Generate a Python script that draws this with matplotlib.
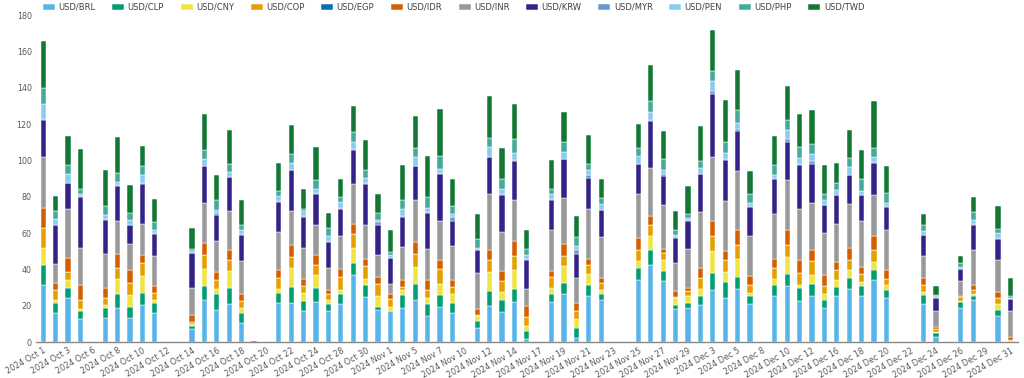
import numpy as np
import matplotlib.pyplot as plt

# categories (trading days shown on the axis)
dates = ["2024 Oct 1", "2024 Oct 2", "2024 Oct 3", "2024 Oct 4", "2024 Oct 6", "2024 Oct 7",
         "2024 Oct 8", "2024 Oct 9", "2024 Oct 10", "2024 Oct 11", "2024 Oct 12", "2024 Oct 13",
         "2024 Oct 14", "2024 Oct 15", "2024 Oct 16", "2024 Oct 17", "2024 Oct 18", "2024 Oct 19",
         "2024 Oct 20", "2024 Oct 21", "2024 Oct 22", "2024 Oct 23", "2024 Oct 24", "2024 Oct 25",
         "2024 Oct 28", "2024 Oct 29", "2024 Oct 30", "2024 Oct 31", "2024 Nov 1", "2024 Nov 4",
         "2024 Nov 5", "2024 Nov 6", "2024 Nov 7", "2024 Nov 8", "2024 Nov 10", "2024 Nov 11",
         "2024 Nov 12", "2024 Nov 13", "2024 Nov 14", "2024 Nov 15", "2024 Nov 17", "2024 Nov 18",
         "2024 Nov 19", "2024 Nov 20", "2024 Nov 21", "2024 Nov 22", "2024 Nov 23", "2024 Nov 24",
         "2024 Nov 25", "2024 Nov 26", "2024 Nov 27", "2024 Nov 28", "2024 Nov 29", "2024 Dec 2",
         "2024 Dec 3", "2024 Dec 4", "2024 Dec 5", "2024 Dec 6", "2024 Dec 8", "2024 Dec 9",
         "2024 Dec 10", "2024 Dec 11", "2024 Dec 12", "2024 Dec 13", "2024 Dec 16", "2024 Dec 17",
         "2024 Dec 18", "2024 Dec 19", "2024 Dec 20", "2024 Dec 21", "2024 Dec 22", "2024 Dec 23",
         "2024 Dec 24", "2024 Dec 25", "2024 Dec 26", "2024 Dec 27", "2024 Dec 29", "2024 Dec 30",
         "2024 Dec 31"]

# series values, stacked bottom to top
brl = [31.7, 16.1, 24.4, 12.5, 0, 13, 19, 13.4, 20.3, 16.1,
       0, 0, 7, 23.1, 17.6, 21.2, 10.3, 0, 0, 21.6,
       21.6, 17, 22.2, 17.2, 21.2, 37.2, 24.9, 17.9, 17, 18.5,
       23.1, 14.3, 19.4, 15.8, 0, 7.5, 20, 16.7, 22.2, 1.5,
       0, 21.8, 26.2, 2.4, 25.5, 23.1, 0, 0, 34.4, 42.3,
       33.7, 18.1, 18.9, 20.3, 28.9, 24.5, 29.5, 21.2, 0, 25.3,
       30.8, 22.5, 25.3, 18.5, 25.5, 29.1, 25.5, 34.4, 24.5, 0,
       0, 21.2, 2.6, 0, 19, 23.1, 0, 14.3, 0.8]
clp = [11, 5.5, 5.5, 4.7, 0, 5.5, 7.2, 6, 6.8, 5.5,
       0, 0, 1.8, 7.9, 9.1, 8.8, 5.5, 0, 0, 5.5,
       8.8, 5.5, 7.7, 4, 5.5, 6.6, 6.8, 1.5, 0, 7.3,
       9.1, 6.9, 6.4, 5.8, 0, 4, 8, 6.7, 7.3, 4.5,
       0, 4.4, 6.4, 5.5, 6.2, 3.3, 0, 0, 6.6, 8.2,
       5.5, 2.2, 2.7, 5, 9.4, 8.7, 6.4, 4.1, 0, 6,
       6.9, 7.4, 6.6, 4.9, 4.9, 6.2, 5.3, 5.5, 4.1, 0,
       0, 4.6, 2.2, 0, 3.2, 2.4, 0, 3.6, 0]
cny = [9.3, 1.8, 4.2, 1.1, 0, 1.8, 8.8, 6.4, 9.2, 1.8,
       0, 0, 1.1, 9.5, 2.8, 9.2, 2.7, 0, 0, 2.4,
       10.6, 4.6, 6.9, 2.2, 2.2, 8.2, 3.3, 5.9, 2.4, 3.1,
       9.2, 3.2, 6.4, 4.8, 0, 2.8, 10.6, 4.3, 10.1, 2.8,
       0, 3.7, 9.2, 4.6, 6, 2.2, 0, 0, 3.7, 7.9,
       5.8, 3.7, 3.7, 4.2, 11.9, 5.4, 10.1, 1.8, 0, 3.7,
       9.2, 1.8, 5.3, 2.8, 3.7, 4.6, 2.4, 4.2, 3.1, 0,
       0, 1.9, 0.9, 0, 0.5, 1, 0, 2.8, 0]
cop = [11, 5.2, 4.6, 5.1, 0, 4.2, 6, 7, 7.3, 3.7,
       0, 0, 1.3, 7.3, 4.6, 6.2, 4.2, 0, 0, 5.8,
       5.9, 3.7, 5.5, 3, 7, 7.7, 6.8, 6.9, 4.2, 1.5,
       7.3, 4.2, 8.3, 4, 0, 0.5, 6.8, 5.8, 7.7, 4.8,
       0, 6, 5.5, 4.7, 4.6, 4, 0, 0, 6.2, 5.9,
       4.2, 0.9, 2.9, 6, 8, 6.8, 7.7, 4.6, 0, 6,
       6.8, 6.4, 7.5, 4.6, 5.5, 5.5, 4.5, 6.8, 3.3, 0,
       0, 3.6, 1.3, 0, 2.2, 2.4, 0, 3.3, 0.6]
egp = [0, 0, 0, 0, 0, 0, 0, 0, 0, 0,
       0, 0, 0, 0, 0, 0, 0, 0, 0, 0,
       0, 0, 0, 0, 0, 0, 0, 0, 0, 0,
       0, 0, 0, 0, 0, 0, 0, 0, 0, 0,
       0, 0, 0, 0, 0, 0, 0, 0, 0, 0,
       0, 0, 0, 0, 0, 0, 0, 0, 0, 0,
       0, 0, 0, 0, 0, 0, 0, 0, 0, 0,
       0, 0, 0, 0, 0, 0, 0, 0, 0]
idr = [11, 4, 7.7, 8.3, 0, 5.4, 7.7, 6.8, 4.6, 3.7,
       0, 0, 3.6, 6.8, 4.5, 5.5, 3.7, 0, 0, 4.6,
       6.8, 3.7, 5.5, 2.5, 4.6, 5.1, 4.2, 3.7, 3.1, 4,
       6.4, 5.8, 4.9, 4, 0, 3.5, 5.5, 5.7, 8.2, 6.2,
       0, 3.1, 6.9, 4.4, 3.7, 2.9, 0, 0, 6.6, 5.1,
       1.8, 3.3, 1.8, 5.5, 8.3, 4.6, 7.8, 4.7, 0, 5,
       8.2, 7.3, 6.2, 6.4, 4.5, 6.6, 3.7, 7.3, 4.9, 0,
       0, 4, 1.4, 0, 0.5, 2.7, 0, 3.7, 1.2]
inr = [28, 10.6, 26.7, 20.1, 0.4, 18.8, 17.8, 14.2, 16.6, 16.5,
       0.4, 0.4, 15.2, 22, 16.9, 21.3, 18.3, 0, 0.4, 20.7,
       18.5, 17.1, 16.5, 12.1, 17.7, 22, 18.3, 12.3, 5.2, 18,
       22.9, 17.1, 21.1, 18.3, 0.4, 19.5, 30.4, 21.4, 22.5, 9.7,
       0.4, 22.5, 25.1, 13.7, 27.1, 22.4, 0.4, 0.4, 24.2, 26.6,
       24.7, 15.6, 21.5, 30.6, 35.3, 27.5, 32.5, 22, 0.4, 24.7,
       27.5, 28, 25.7, 23.1, 21.1, 24.2, 25.3, 22.6, 21.6, 0.4,
       0.4, 12.1, 8.8, 0.4, 8.3, 19.3, 0.4, 17.3, 14.6]
krw = [20.3, 21.1, 14.5, 28.2, 0, 18.3, 19.4, 10.5, 22.4, 12.4,
       0, 0, 19.3, 20.1, 14.3, 18.6, 14.1, 0, 0, 16.5,
       22.3, 17.4, 17.4, 14.1, 15.2, 19.1, 22.9, 16.1, 14.6, 16.5,
       18.7, 19.6, 26.2, 13.8, 0, 12.8, 20.5, 20.5, 21.7, 15.9,
       0, 16.9, 21.3, 13.4, 17.2, 14.6, 0, 0, 16.1, 25.7,
       15.8, 13.7, 15.2, 20.8, 34.8, 23, 22.1, 16, 0, 19.2,
       20.7, 24.2, 21.6, 15, 15.6, 15.6, 14.1, 17.9, 13.1, 0,
       0, 11.4, 6.8, 0, 6.4, 13.7, 0, 12, 6.7]
myr = [0.3, 0, 0, 0.5, 0, 0.5, 0.5, 0, 0.5, 0.5,
       0, 0, 0, 0.3, 1.3, 0.3, 0.5, 0, 0, 0.3,
       0.3, 0.4, 0.3, 0.3, 0.3, 0.3, 0.3, 1.8, 0, 0.5,
       0, 0.3, 0.3, 2.4, 0, 0.3, 0.3, 0.3, 0.3, 0.3,
       0, 0.3, 0.3, 2.2, 1.8, 0.3, 0, 0, 0.3, 0.3,
       1.3, 0.3, 0.3, 0.3, 1.9, 0.3, 1.3, 0.3, 0, 0.3,
       1.8, 0.3, 1.4, 0.3, 0.3, 0.3, 0.3, 0.3, 0.3, 0,
       0, 0.3, 0.3, 0, 0.3, 0.3, 0, 0.3, 0]
pen = [8.4, 3.7, 4.8, 1.3, 0, 2.3, 1.7, 3.1, 4.4, 1.7,
       0, 0, 0.7, 3.9, 1.8, 2.5, 2.6, 0, 0, 2.8,
       3.7, 2.7, 2.4, 2.8, 3.4, 3.9, 2.8, 1.3, 1.7, 4,
       5.1, 2.6, 2.4, 1.8, 0, 1.1, 5.2, 3, 3.9, 2.5,
       0, 3, 3.9, 1.8, 2.4, 3.4, 0, 0, 4.3, 4.8,
       2.2, 1.4, 1.5, 3, 5.1, 3.2, 3.3, 2.1, 0, 1.6,
       4.6, 3.4, 3.7, 2.4, 2.4, 4.2, 1.9, 2.8, 1.9, 0,
       0, 2.1, 0.9, 0, 1.1, 2.1, 0, 2.8, 0.6]
php = [9, 4, 5, 2.3, 0, 5.1, 4.9, 3.8, 4.6, 4.2,
       0, 0, 1.5, 5, 5.1, 4.2, 2.4, 0, 0, 3,
       5.2, 1.4, 4.6, 4.8, 2.8, 5.5, 4.6, 3.7, 1.4, 4.6,
       5.2, 5.9, 6.8, 4, 0, 4.8, 5.2, 5.5, 7.7, 3.3,
       0, 2.7, 5.3, 5.2, 3.7, 3.3, 0, 0, 4.4, 5.9,
       5.6, 2.7, 2.2, 4, 5.9, 6.1, 6.8, 4.6, 0, 5.5,
       5.5, 6, 5.9, 3.7, 4.2, 5.2, 6.9, 5, 5.1, 0,
       0, 3.1, 0.9, 0, 1.9, 4.6, 0, 2.4, 0.9]
twd = [26, 8.2, 15.9, 22.4, 0, 20.1, 19.8, 15.1, 11.2, 12.8,
       0, 0, 11.5, 19.4, 14.1, 19.2, 13.7, 0.8, 0, 15.5,
       15.9, 11, 18.3, 8.2, 10, 14.3, 16.5, 10.2, 12.3, 19.6,
       17.2, 22.5, 26.2, 15.2, 0, 13.5, 23.2, 16.9, 19.6, 10,
       0, 15.6, 16.7, 11.5, 15.9, 10.4, 0, 0, 13.3, 20.1,
       15.6, 10.3, 15, 19.2, 22.3, 23.2, 22.5, 12.7, 0, 15.9,
       19.2, 18, 18.3, 15.6, 11, 15.5, 15.6, 25.8, 15, 0,
       0, 6, 5, 0, 4, 8.2, 0, 12.2, 10.1]

names = ["USD/BRL", "USD/CLP", "USD/CNY", "USD/COP", "USD/EGP", "USD/IDR",
         "USD/INR", "USD/KRW", "USD/MYR", "USD/PEN", "USD/PHP", "USD/TWD"]
series = [brl, clp, cny, cop, egp, idr, inr, krw, myr, pen, php, twd]
colors = ["#56B4E9", "#009E73", "#F0E442", "#E69F00", "#0072B2", "#D55E00",
          "#999999", "#332288", "#6699CC", "#88CCEE", "#44AA99", "#117733"]

fig = plt.figure(figsize=(10.24, 3.78), dpi=100)
ax = fig.add_axes([0.035, 0.095, 0.959, 0.865])

x = np.arange(len(dates))
bottom = np.zeros(len(dates))
handles = []
for vals, name, col in zip(series, names, colors):
    b = ax.bar(x, vals, width=0.42, bottom=bottom, color=col, label=name,
               edgecolor="white", linewidth=0.35)
    handles.append(b)
    bottom += np.array(vals)

ax.set_xlim(-0.6, len(dates) - 0.4)
ax.set_ylim(0, 180)
ax.set_yticks(range(0, 181, 20))
ax.set_xticks(x[::2])
ax.set_xticklabels(dates[::2], rotation=30, ha="right", rotation_mode="anchor")
ax.tick_params(axis="both", length=0, labelsize=5.8, colors="#595959", pad=3)
for s in ["top", "right", "left"]:
    ax.spines[s].set_visible(False)
ax.spines["bottom"].set_color("#888888")
ax.spines["bottom"].set_linewidth(1.0)

fig.legend(handles=handles, labels=names, loc="center left", bbox_to_anchor=(0.038, 0.981),
           ncol=12, frameon=False, fontsize=6, handlelength=1.45, handleheight=0.8,
           handletextpad=0.4, columnspacing=2.0, borderpad=0, labelcolor="#404040")

fig.savefig("out.png", dpi=100)
